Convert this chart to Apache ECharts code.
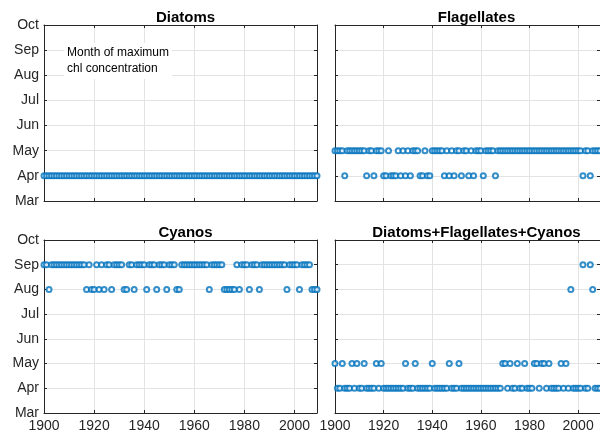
<!DOCTYPE html>
<html>
<head>
<meta charset="utf-8">
<script src="https://cdn.jsdelivr.net/npm/echarts@6/dist/echarts.min.js"></script>
<style>
  html, body { margin: 0; padding: 0; background: #fff; }
  #chart { width: 600px; height: 437px; }
</style>
</head>
<body>
<div id="chart"></div>
<script>
// years 1900-2009
const years = [
  1900, 1901, 1902, 1903, 1904, 1905, 1906, 1907, 1908, 1909,
  1910, 1911, 1912, 1913, 1914, 1915, 1916, 1917, 1918, 1919,
  1920, 1921, 1922, 1923, 1924, 1925, 1926, 1927, 1928, 1929,
  1930, 1931, 1932, 1933, 1934, 1935, 1936, 1937, 1938, 1939,
  1940, 1941, 1942, 1943, 1944, 1945, 1946, 1947, 1948, 1949,
  1950, 1951, 1952, 1953, 1954, 1955, 1956, 1957, 1958, 1959,
  1960, 1961, 1962, 1963, 1964, 1965, 1966, 1967, 1968, 1969,
  1970, 1971, 1972, 1973, 1974, 1975, 1976, 1977, 1978, 1979,
  1980, 1981, 1982, 1983, 1984, 1985, 1986, 1987, 1988, 1989,
  1990, 1991, 1992, 1993, 1994, 1995, 1996, 1997, 1998, 1999,
  2000, 2001, 2002, 2003, 2004, 2005, 2006, 2007, 2008, 2009
];

// month of max chl (3 = Mar ... 10 = Oct), one row per decade
const diatomsMonth = [
  4, 4, 4, 4, 4, 4, 4, 4, 4, 4,
  4, 4, 4, 4, 4, 4, 4, 4, 4, 4,
  4, 4, 4, 4, 4, 4, 4, 4, 4, 4,
  4, 4, 4, 4, 4, 4, 4, 4, 4, 4,
  4, 4, 4, 4, 4, 4, 4, 4, 4, 4,
  4, 4, 4, 4, 4, 4, 4, 4, 4, 4,
  4, 4, 4, 4, 4, 4, 4, 4, 4, 4,
  4, 4, 4, 4, 4, 4, 4, 4, 4, 4,
  4, 4, 4, 4, 4, 4, 4, 4, 4, 4,
  4, 4, 4, 4, 4, 4, 4, 4, 4, 4,
  4, 4, 4, 4, 4, 4, 4, 4, 4, 4
];

const flagMonth = [
  5, 5, 5, 5, 4, 5, 5, 5, 5, 5,
  5, 5, 5, 4, 5, 5, 4, 5, 5, 5,
  4, 4, 5, 4, 4, 4, 5, 4, 5, 4,
  5, 4, 5, 5, 5, 4, 4, 5, 4, 4,
  5, 5, 5, 5, 5, 4, 5, 4, 5, 4,
  5, 5, 4, 5, 5, 4, 5, 4, 5, 5,
  5, 4, 5, 5, 5, 5, 4, 5, 5, 5,
  5, 5, 5, 5, 5, 5, 5, 5, 5, 5,
  5, 5, 5, 5, 5, 5, 5, 5, 5, 5,
  5, 5, 5, 5, 5, 5, 5, 5, 5, 5,
  5, 5, 4, 5, 5, 4, 5, 5, 5, 5
];

const cyanoMonth = [
  9, 9, 8, 9, 9, 9, 9, 9, 9, 9,
  9, 9, 9, 9, 9, 9, 9, 8, 9, 8,
  8, 9, 8, 9, 8, 9, 9, 8, 9, 9,
  9, 9, 8, 8, 9, 9, 8, 9, 9, 9,
  9, 8, 9, 9, 9, 8, 9, 9, 9, 8,
  9, 9, 9, 8, 8, 9, 9, 9, 9, 9,
  9, 9, 9, 9, 9, 9, 8, 9, 9, 9,
  9, 9, 8, 8, 8, 8, 8, 9, 8, 9,
  9, 9, 8, 9, 9, 9, 8, 9, 9, 9,
  9, 9, 9, 9, 9, 9, 9, 8, 9, 9,
  9, 9, 8, 9, 9, 9, 9, 8, 8, 8
];

const totalMonth = [
  5, 4, 4, 5, 4, 4, 4, 5, 4, 5,
  4, 4, 5, 4, 4, 4, 4, 5, 4, 5,
  4, 4, 4, 4, 4, 4, 4, 4, 4, 5,
  4, 4, 4, 5, 4, 4, 4, 4, 4, 4,
  5, 4, 4, 4, 4, 4, 4, 5, 4, 4,
  4, 5, 4, 4, 4, 4, 4, 4, 4, 4,
  4, 4, 4, 4, 4, 4, 4, 4, 4, 5,
  5, 4, 5, 4, 4, 5, 4, 4, 5, 4,
  4, 4, 5, 5, 4, 5, 5, 4, 5, 4,
  4, 4, 4, 5, 4, 5, 4, 8, 4, 4,
  4, 4, 9, 4, 4, 9, 8, 4, 4, 4
];

const monthLabels = { 3: "Mar", 4: "Apr", 5: "May", 6: "Jun", 7: "Jul", 8: "Aug", 9: "Sep", 10: "Oct" };
const panelTitles = ["Diatoms", "Flagellates", "Cyanos", "Diatoms+Flagellates+Cyanos"];
const panelData = [diatomsMonth, flagMonth, cyanoMonth, totalMonth];

const FONT = "'Liberation Sans', Arial, sans-serif";
const AXIS = "#262626";
const GRIDC = "#e3e3e3";
const BLUE = "#0072BD";

// panel boxes in px (right column runs past the 600px edge, as in the original)
const boxes = [
  { left: 44, top: 25, width: 273, height: 176 },
  { left: 335, top: 25, width: 273, height: 176 },
  { left: 44, top: 240, width: 273, height: 173 },
  { left: 335, top: 240, width: 273, height: 173 }
];

const chart = echarts.init(document.getElementById("chart"));

const grid = boxes.map((b) => ({ left: b.left, top: b.top, width: b.width, height: b.height, containLabel: false }));

const xAxis = [];
const yAxis = [];
// main axes (bottom / left)
boxes.forEach((b, i) => {
  xAxis.push({
    type: "value", gridIndex: i, min: 1900, max: 2009, interval: 20,
    axisLine: { show: true, onZero: false, lineStyle: { color: AXIS, width: 1 } },
    axisTick: { show: true, inside: true, length: 3, lineStyle: { color: AXIS } },
    axisLabel: {
      show: i >= 2, color: AXIS, fontFamily: FONT, fontSize: 14, margin: 6,
      showMaxLabel: false,
      formatter: (v) => (v % 20 === 0 ? String(v) : "")
    },
    splitLine: { show: true, lineStyle: { color: GRIDC, width: 1 } }
  });
  yAxis.push({
    type: "value", gridIndex: i, min: 3, max: 10, interval: 1,
    axisLine: { show: true, onZero: false, lineStyle: { color: AXIS, width: 1 } },
    axisTick: { show: true, inside: true, length: 3, lineStyle: { color: AXIS } },
    axisLabel: {
      show: i % 2 === 0, color: AXIS, fontFamily: FONT, fontSize: 14, margin: 5,
      formatter: (v) => monthLabels[v] || ""
    },
    splitLine: { show: true, lineStyle: { color: GRIDC, width: 1 } }
  });
});
// box axes (top / right)
boxes.forEach((b, i) => {
  xAxis.push({
    type: "value", gridIndex: i, position: "top", min: 1900, max: 2009, interval: 20,
    axisLine: { show: true, onZero: false, lineStyle: { color: AXIS, width: 1 } },
    axisTick: { show: true, inside: true, length: 3, lineStyle: { color: AXIS } },
    axisLabel: { show: false },
    splitLine: { show: false }
  });
  yAxis.push({
    type: "value", gridIndex: i, position: "right", min: 3, max: 10, interval: 1,
    axisLine: { show: true, onZero: false, lineStyle: { color: AXIS, width: 1 } },
    axisTick: { show: true, inside: true, length: 3, lineStyle: { color: AXIS } },
    axisLabel: { show: false },
    splitLine: { show: false }
  });
});

const series = panelData.map((arr, i) => ({
  type: "scatter",
  xAxisIndex: i,
  yAxisIndex: i,
  symbol: "emptyCircle",
  symbolSize: 5,
  itemStyle: { color: BLUE, borderColor: BLUE, borderWidth: 1 },
  data: years.map((y, k) => [y, arr[k]]),
  animation: false
}));

const title = panelTitles.map((t, i) => ({
  text: t,
  left: boxes[i].left + boxes[i].width / 2,
  top: boxes[i].top - 20,
  textAlign: "center",
  textStyle: { fontFamily: FONT, fontSize: 15, fontWeight: "bold", color: "#000" }
}));

chart.setOption({
  animation: false,
  backgroundColor: "#fff",
  title: title,
  grid: grid,
  xAxis: xAxis,
  yAxis: yAxis,
  series: series,
  graphic: [{
    type: "text",
    left: 64,
    top: 43,
    z: 100,
    style: {
      text: "Month of maximum\nchl concentration",
      font: "12px " + FONT,
      fill: "#000",
      lineHeight: 16,
      backgroundColor: "#fff",
      padding: [2, 3, 2, 3]
    }
  }]
});
</script>
</body>
</html>
